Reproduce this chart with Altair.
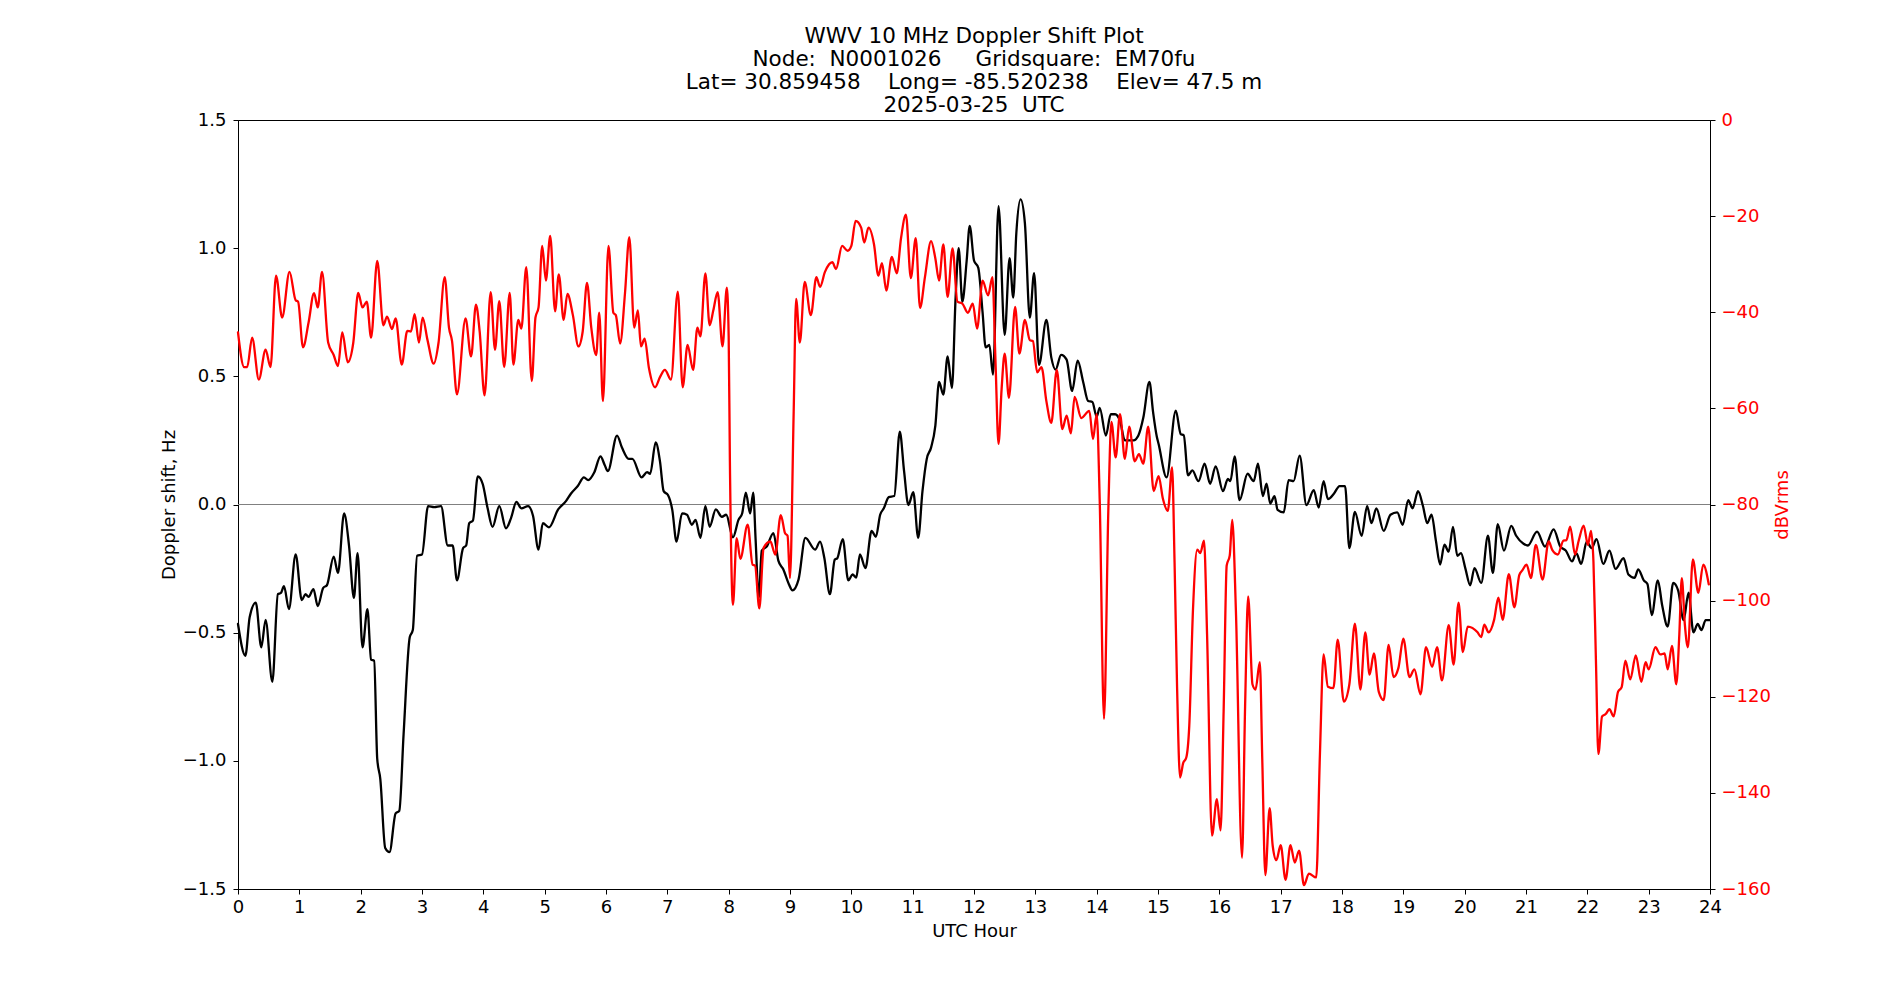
import altair as alt
import pandas as pd

# ---- Doppler shift (Hz), black trace ----
hz_hours = [0, 0.12, 0.19, 0.29, 0.38, 0.45, 0.56, 0.65, 0.7, 0.75, 0.83, 0.94, 1.04, 1.1, 1.15, 1.23, 1.3, 1.39, 1.45,
            1.56, 1.63, 1.73, 1.81, 1.89, 1.95, 2.03, 2.11, 2.17, 2.22, 2.27, 2.32, 2.4, 2.47, 2.57, 2.63, 2.7, 2.8,
            2.85, 2.92, 3.0, 3.1, 3.2, 3.31, 3.42, 3.5, 3.57, 3.67, 3.72, 3.77, 3.83, 3.91, 3.99, 4.07, 4.15, 4.26,
            4.37, 4.45, 4.54, 4.62, 4.73, 4.81, 4.9, 4.97, 5.07, 5.22, 5.35, 5.43, 5.54, 5.64, 5.71, 5.81, 5.91, 5.98,
            6.03, 6.18, 6.26, 6.37, 6.43, 6.58, 6.67, 6.72, 6.81, 6.88, 6.94, 7.01, 7.08, 7.15, 7.24, 7.32, 7.4, 7.46,
            7.54, 7.62, 7.69, 7.79, 7.89, 7.96, 8.07, 8.16, 8.22, 8.28, 8.35, 8.4, 8.44, 8.49, 8.54, 8.62, 8.73, 8.81,
            8.89, 8.98, 9.04, 9.14, 9.25, 9.41, 9.49, 9.56, 9.65, 9.73, 9.77, 9.86, 9.95, 10.02, 10.08, 10.14, 10.23,
            10.33, 10.4, 10.47, 10.53, 10.61, 10.7, 10.79, 10.86, 10.93, 11.01, 11.09, 11.16, 11.23, 11.3, 11.37,
            11.43, 11.5, 11.57, 11.64, 11.7, 11.75, 11.81, 11.88, 11.93, 12.0, 12.07, 12.14, 12.19, 12.25, 12.31,
            12.4, 12.5, 12.58, 12.64, 12.69, 12.76, 12.83, 12.91, 12.98, 13.06, 13.18, 13.26, 13.33, 13.42, 13.51,
            13.6, 13.69, 13.78, 13.86, 13.93, 14.0, 14.05, 14.15, 14.23, 14.3, 14.38, 14.46, 14.6, 14.68, 14.76,
            14.86, 14.92, 14.98, 15.01, 15.14, 15.29, 15.37, 15.42, 15.49, 15.56, 15.66, 15.76, 15.85, 15.94, 16.06,
            16.14, 16.18, 16.25, 16.33, 16.46, 16.56, 16.63, 16.71, 16.77, 16.83, 16.9, 16.95, 17.05, 17.13, 17.21,
            17.31, 17.42, 17.54, 17.62, 17.7, 17.77, 17.87, 17.96, 18.05, 18.12, 18.21, 18.32, 18.41, 18.48, 18.56,
            18.68, 18.79, 18.9, 18.99, 19.08, 19.15, 19.24, 19.32, 19.39, 19.46, 19.53, 19.6, 19.67, 19.74, 19.81,
            19.88, 19.94, 20.01, 20.09, 20.16, 20.27, 20.38, 20.46, 20.54, 20.64, 20.76, 20.84, 20.96, 21.03, 21.18,
            21.31, 21.45, 21.56, 21.65, 21.75, 21.82, 21.9, 21.99, 22.07, 22.15, 22.26, 22.36, 22.46, 22.59, 22.67,
            22.77, 22.83, 22.92, 22.98, 23.05, 23.15, 23.22, 23.31, 23.4, 23.48, 23.57, 23.65, 23.73, 23.8, 23.86,
            23.93, 24.0]
hz_vals = [-0.466, -0.59, -0.44, -0.383, -0.557, -0.45, -0.692, -0.35, -0.345, -0.319, -0.408, -0.195, -0.373, -0.35,
           -0.36, -0.33, -0.396, -0.325, -0.315, -0.203, -0.267, -0.035, -0.16, -0.364, -0.19, -0.557, -0.408, -0.605,
           -0.61, -0.992, -1.07, -1.34, -1.356, -1.205, -1.195, -0.896, -0.518, -0.49, -0.2, -0.195, -0.006, -0.01,
           -0.006, -0.16, -0.16, -0.296, -0.17, -0.16, -0.073, -0.063, 0.11, 0.08, -0.015, -0.087, -0.006, -0.093,
           -0.054, 0.01, -0.015, -0.006, -0.044, -0.176, -0.073, -0.089, -0.019, 0.014, 0.043, 0.072, 0.106, 0.095,
           0.126, 0.188, 0.153, 0.13, 0.269, 0.222, 0.178, 0.178, 0.106, 0.126, 0.12, 0.242, 0.168, 0.052, 0.037,
           -0.02, -0.145, -0.035, -0.04, -0.079, -0.06, -0.13, -0.006, -0.087, -0.019, -0.048, -0.04, -0.128, -0.06,
           -0.035, 0.046, -0.035, 0.046, -0.14, -0.364, -0.18, -0.164, -0.112, -0.219, -0.253, -0.31, -0.335, -0.292,
           -0.13, -0.176, -0.145, -0.209, -0.35, -0.215, -0.21, -0.135, -0.296, -0.273, -0.285, -0.195, -0.248,
           -0.103, -0.126, -0.04, -0.015, 0.029, 0.033, 0.284, 0.13, -0.002, 0.048, -0.13, 0.052, 0.178, 0.222,
           0.308, 0.478, 0.429, 0.578, 0.455, 0.807, 1.0, 0.791, 0.95, 1.087, 0.952, 0.923, 0.749, 0.613, 0.623,
           0.507, 1.164, 0.662, 0.961, 0.807, 1.058, 1.19, 1.097, 0.729, 0.903, 0.545, 0.72, 0.574, 0.526, 0.584,
           0.565, 0.443, 0.561, 0.478, 0.404, 0.4, 0.342, 0.377, 0.269, 0.352, 0.352, 0.327, 0.25, 0.25, 0.269,
           0.338, 0.478, 0.36, 0.265, 0.236, 0.106, 0.366, 0.275, 0.27, 0.114, 0.133, 0.091, 0.159, 0.081, 0.149,
           0.052, 0.1, 0.091, 0.188, 0.017, 0.12, 0.091, 0.159, 0.033, 0.081, 0.004, 0.033, -0.021, -0.031, 0.095,
           0.091, 0.191, -0.002, 0.056, -0.012, 0.091, 0.021, 0.043, 0.072, 0.072, -0.17, -0.029, -0.122, -0.006,
           -0.073, -0.015, -0.103, -0.04, -0.031, -0.079, 0.017, -0.015, 0.052, -0.006, -0.073, -0.04, -0.14,
           -0.234, -0.157, -0.184, -0.087, -0.2, -0.19, -0.248, -0.315, -0.248, -0.306, -0.122, -0.267, -0.077,
           -0.18, -0.083, -0.122, -0.153, -0.16, -0.106, -0.164, -0.097, -0.164, -0.18, -0.222, -0.19, -0.232,
           -0.145, -0.17, -0.135, -0.232, -0.18, -0.251, -0.209, -0.273, -0.286, -0.253, -0.296, -0.31, -0.431,
           -0.296, -0.393, -0.476, -0.306, -0.335, -0.451, -0.344, -0.499, -0.466, -0.49, -0.451, -0.451]

# ---- Signal level (dBVrms), red trace ----
db_hours = [0, 0.1, 0.15, 0.23, 0.34, 0.45, 0.53, 0.62, 0.72, 0.84, 0.94, 0.98, 1.06, 1.15, 1.24, 1.3, 1.37, 1.47, 1.56,
            1.63, 1.7, 1.79, 1.88, 1.96, 2.03, 2.1, 2.17, 2.27, 2.37, 2.43, 2.51, 2.57, 2.67, 2.76, 2.82, 2.88, 2.95,
            3.01, 3.09, 3.19, 3.27, 3.37, 3.44, 3.49, 3.57, 3.71, 3.8, 3.88, 3.94, 4.02, 4.12, 4.19, 4.26, 4.34, 4.43,
            4.49, 4.57, 4.62, 4.7, 4.79, 4.85, 4.9, 4.96, 5.02, 5.09, 5.17, 5.23, 5.31, 5.37, 5.46, 5.55, 5.62, 5.69,
            5.76, 5.84, 5.89, 5.95, 6.04, 6.12, 6.16, 6.23, 6.31, 6.38, 6.46, 6.52, 6.57, 6.63, 6.7, 6.8, 6.88, 6.96,
            7.06, 7.17, 7.25, 7.33, 7.42, 7.49, 7.54, 7.62, 7.69, 7.75, 7.82, 7.9, 7.97, 8.0, 8.02, 8.07, 8.13, 8.19,
            8.31, 8.39, 8.43, 8.5, 8.57, 8.68, 8.76, 8.85, 8.92, 8.96, 9.0, 9.06, 9.1, 9.16, 9.24, 9.34, 9.43, 9.49,
            9.57, 9.69, 9.75, 9.85, 9.94, 10.0, 10.07, 10.16, 10.21, 10.28, 10.37, 10.44, 10.5, 10.57, 10.66, 10.74,
            10.81, 10.89, 10.97, 11.05, 11.12, 11.2, 11.3, 11.37, 11.43, 11.5, 11.57, 11.65, 11.73, 11.81, 11.9,
            11.98, 12.05, 12.14, 12.23, 12.3, 12.35, 12.4, 12.45, 12.5, 12.57, 12.67, 12.74, 12.83, 12.91, 12.96,
            13.03, 13.1, 13.18, 13.26, 13.35, 13.44, 13.51, 13.58, 13.64, 13.75, 13.88, 13.94, 14.0, 14.05, 14.12,
            14.19, 14.24, 14.31, 14.38, 14.46, 14.53, 14.62, 14.69, 14.76, 14.84, 14.93, 15.01, 15.08, 15.16, 15.23,
            15.27, 15.31, 15.36, 15.41, 15.46, 15.51, 15.57, 15.64, 15.69, 15.75, 15.8, 15.88, 15.96, 16.02, 16.07,
            16.12, 16.17, 16.21, 16.27, 16.37, 16.42, 16.47, 16.54, 16.59, 16.66, 16.7, 16.75, 16.82, 16.87, 16.93,
            17.0, 17.08, 17.16, 17.23, 17.3, 17.38, 17.46, 17.58, 17.64, 17.7, 17.77, 17.86, 17.93, 18.03, 18.12,
            18.21, 18.3, 18.38, 18.45, 18.52, 18.6, 18.68, 18.76, 18.84, 18.92, 19.0, 19.1, 19.18, 19.28, 19.37,
            19.47, 19.55, 19.63, 19.74, 19.82, 19.9, 19.97, 20.05, 20.21, 20.27, 20.32, 20.39, 20.48, 20.55, 20.62,
            20.72, 20.81, 20.89, 20.94, 21.01, 21.08, 21.16, 21.27, 21.37, 21.43, 21.52, 21.61, 21.66, 21.72, 21.8,
            21.86, 21.94, 22.01, 22.06, 22.1, 22.14, 22.18, 22.24, 22.3, 22.36, 22.43, 22.5, 22.56, 22.62, 22.7,
            22.79, 22.88, 22.95, 23.0, 23.11, 23.19, 23.26, 23.31, 23.38, 23.45, 23.5, 23.54, 23.59, 23.64, 23.72,
            23.81, 23.89, 23.98]
db_vals = [-44.2, -51.4, -51.4, -45.3, -54, -47.8, -51.4, -32.4, -41.1, -31.6, -37.5, -37.8, -47.3, -42.2, -36, -39,
           -31.6, -46.3, -48.9, -51.2, -44.2, -50.4, -46.3, -36, -39, -37.8, -45.3, -29.3, -42.7, -40.9, -43.5,
           -41.3, -50.9, -43.9, -44, -40.4, -46.3, -41.1, -45.8, -50.7, -46.3, -32.7, -43.2, -46, -57.1, -41.3,
           -49.2, -38.4, -44, -57.3, -35.8, -47.8, -37.7, -51.4, -36, -50.9, -41.6, -43.4, -30.6, -54.3, -41.1, -39,
           -26.2, -33.4, -24.1, -39.8, -32.1, -41.6, -36.2, -40.6, -47.1, -44, -33.9, -43.2, -48.9, -40.1, -58.5,
           -26.2, -40.1, -40.6, -46.5, -36, -24.4, -43.2, -39.6, -47.1, -45.5, -51.6, -55.6, -53.5, -52, -54, -35.7,
           -55.6, -46.8, -52, -43.2, -45, -31.9, -42.7, -39.6, -35.8, -47.1, -34.9, -45, -71, -100.9, -87, -91.3,
           -84.2, -92.5, -92.7, -101.6, -89, -87.7, -90.4, -82.2, -86, -86.5, -95.3, -60.7, -37.2, -46.3, -33.7,
           -40.6, -32.7, -34.7, -31.6, -29.6, -31, -26.2, -27.2, -26.2, -21, -22.4, -25.5, -22.4, -25.9, -32.4,
           -29.8, -35.5, -28.5, -31.9, -24.6, -19.7, -32.9, -24.6, -39.1, -32.7, -25.2, -28.8, -33.4, -25.9, -36.8,
           -26.7, -37.8, -38.2, -40.1, -38.2, -43.4, -33.4, -36.5, -32.7, -50, -67.4, -56, -48.6, -57.8, -38.9,
           -48.6, -41.6, -45.8, -46, -52.5, -51.4, -58.5, -63, -52, -64.3, -61.5, -65.2, -57.6, -62, -60.5, -66.4,
           -61.2, -79.3, -124.6, -81.3, -62.8, -70.2, -61.2, -70.5, -63.8, -71, -69.5, -71.5, -63.8, -77.2, -74.1,
           -78.8, -81.3, -72.3, -92, -117.4, -136.8, -133.8, -132.7, -126, -102, -89.4, -90.1, -87.5, -107, -148.9,
           -141.3, -147.8, -123, -92.7, -90.6, -83.2, -102, -153.5, -122, -99.1, -117.4, -118.5, -112.8, -133,
           -157.1, -143.2, -151, -154, -150.9, -158.1, -150.9, -154.5, -152, -159.2, -156.8, -157.6, -132, -111.2,
           -117.9, -118.2, -108.1, -121, -117.4, -104.8, -118.5, -106.6, -115.4, -111, -119, -120.7, -109.2, -115.9,
           -114, -107.9, -115.9, -114.3, -119.5, -109.7, -113.8, -109.7, -116.6, -105.1, -113.3, -100.4, -110.7,
           -105.4, -106.6, -107.6, -105, -106.6, -104, -99.4, -104, -94.5, -101.4, -94.7, -93.7, -92.5, -95.3,
           -88.4, -95.6, -87.7, -89.5, -90.4, -87.5, -87.4, -84.6, -90.4, -87.5, -84.4, -88.4, -85.5, -92, -112.3,
           -131.9, -124.1, -123.6, -122.6, -124.1, -119, -118, -112.5, -116.4, -111.4, -116.9, -112.8, -114.3,
           -109.7, -111.2, -111, -114.3, -109.4, -117.4, -107, -95.3, -105, -109.7, -91.4, -98.4, -92.5, -96.6]

x_ticks = list(range(0, 25))
hz_ticks = [-1.5, -1.0, -0.5, 0.0, 0.5, 1.0, 1.5]
db_ticks = [-160, -140, -120, -100, -80, -60, -40, -20, 0]
title_lines = [
    "WWV 10 MHz Doppler Shift Plot",
    "Node:\u00a0 N0001026\u00a0\u00a0\u00a0\u00a0 Gridsquare:\u00a0 EM70fu",
    "Lat= 30.859458\u00a0\u00a0\u00a0 Long= -85.520238\u00a0\u00a0\u00a0 Elev= 47.5 m",
    "2025-03-25\u00a0 UTC",
]

df_hz = pd.DataFrame({"hour": hz_hours, "hz": hz_vals})
df_db = pd.DataFrame({"hour": db_hours, "db": db_vals})
df_zero = pd.DataFrame({"z": [0.0]})

FONT = "DejaVu Sans"
LBL = dict(labelFont=FONT, labelFontSize=18, titleFont=FONT, titleFontSize=18,
           titleFontWeight="normal", tickColor="black", domainColor="black",
           domainWidth=1, tickWidth=1, grid=False, labelOverlap=False, labelFlush=False,
           tickSize=5)

x_enc = alt.X(
    "hour:Q",
    scale=alt.Scale(domain=[0, 24], nice=False, zero=False),
    axis=alt.Axis(values=x_ticks, title="UTC Hour", labelPadding=4, titlePadding=6,
                  labelColor="black", titleColor="black", **LBL),
)

zero_rule = alt.Chart(df_zero).mark_rule(color="#808080", strokeWidth=1).encode(
    y=alt.Y("z:Q", scale=alt.Scale(domain=[-1.5, 1.5], nice=False, zero=False), axis=None)
)

black = alt.Chart(df_hz).mark_line(
    color="black", strokeWidth=2.3, interpolate="monotone", strokeJoin="round", strokeCap="round"
).encode(
    x=x_enc,
    y=alt.Y("hz:Q", scale=alt.Scale(domain=[-1.5, 1.5], nice=False, zero=False),
            axis=alt.Axis(orient="left", values=hz_ticks, format=".1f", title="Doppler shift, Hz",
                          labelPadding=7, titlePadding=4, labelColor="black",
                          titleColor="black", **LBL)),
)

red = alt.Chart(df_db).mark_line(
    color="#ff0000", strokeWidth=2.3, interpolate="monotone", strokeJoin="round", strokeCap="round"
).encode(
    x=x_enc,
    y=alt.Y("db:Q", scale=alt.Scale(domain=[-160, 0], nice=False, zero=False),
            axis=alt.Axis(orient="right", values=db_ticks, format="d", title="dBVrms",
                          labelPadding=6, titlePadding=21, labelColor="#ff0000",
                          titleColor="#ff0000", titleAngle=270, **LBL)),
)

chart = alt.layer(zero_rule, black, red).resolve_scale(y="independent").properties(
    width=1472,
    height=769,
    background="white",
    padding={"left": 238, "top": 120, "right": 190, "bottom": 111},
    autosize=alt.AutoSizeParams(type="none"),
    title=alt.TitleParams(text=title_lines, font=FONT, fontSize=21.5, fontWeight="normal",
                          color="black", anchor="middle", lineHeight=23, offset=-5),
).configure_view(
    stroke="black", strokeWidth=1
)

chart.save("out.html", embed_options={"renderer": "svg", "actions": False})
